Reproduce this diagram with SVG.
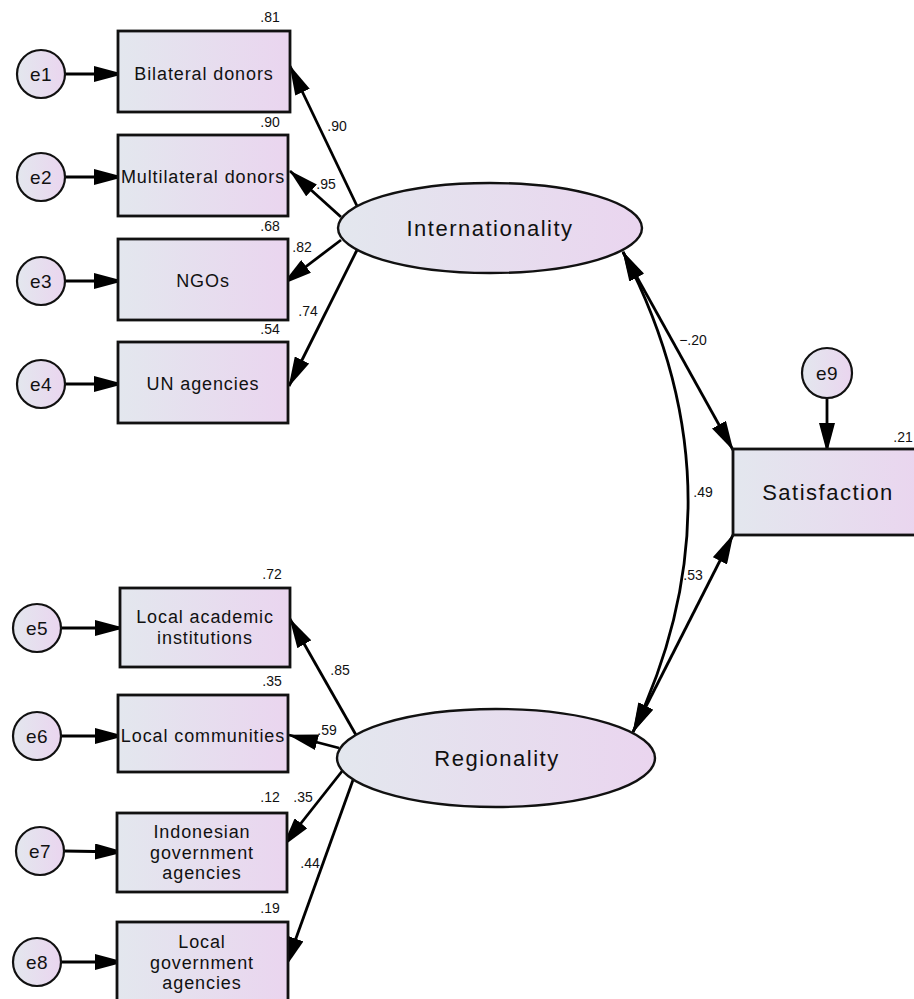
<svg xmlns="http://www.w3.org/2000/svg" width="914" height="999" viewBox="0 0 914 999">
<defs>
<linearGradient id="g" x1="0" y1="0" x2="1" y2="0">
<stop offset="0" stop-color="#e3e7ee"/>
<stop offset="1" stop-color="#ead5ef"/>
</linearGradient>
<marker id="ah" markerUnits="userSpaceOnUse" markerWidth="30" markerHeight="16" refX="29" refY="8" orient="auto-start-reverse">
<path d="M0,0 L30,8 L0,16 z" fill="#000"/>
</marker>
<style>
.box{fill:url(#g);stroke:#111;stroke-width:2.8}
.lat{fill:url(#g);stroke:#111;stroke-width:2.4}
.err{fill:url(#g);stroke:#111;stroke-width:2.2}
.t{font-family:"Liberation Sans",Arial,sans-serif;font-size:18px;letter-spacing:0.9px;fill:#111;text-anchor:middle}
.big{font-family:"Liberation Sans",Arial,sans-serif;font-size:22px;letter-spacing:1.5px;fill:#111;text-anchor:middle}
.e{font-family:"Liberation Sans",Arial,sans-serif;font-size:19px;letter-spacing:0.5px;fill:#111;text-anchor:middle}
.n{font-family:"Liberation Sans",Arial,sans-serif;font-size:14px;fill:#111;text-anchor:middle}
.c line,.c path{stroke:#000;stroke-width:2.8;fill:none}
</style>
</defs>

<g id="connectors" class="c">
<line x1="65" y1="74" x2="123" y2="74" marker-end="url(#ah)"/>
<line x1="65" y1="177" x2="123" y2="177" marker-end="url(#ah)"/>
<line x1="65" y1="281" x2="123" y2="281" marker-end="url(#ah)"/>
<line x1="65" y1="384" x2="123" y2="384" marker-end="url(#ah)"/>
<line x1="61" y1="628" x2="124" y2="628" marker-end="url(#ah)"/>
<line x1="61" y1="736" x2="124" y2="736" marker-end="url(#ah)"/>
<line x1="64" y1="851" x2="124" y2="852" marker-end="url(#ah)"/>
<line x1="61" y1="962" x2="124" y2="962" marker-end="url(#ah)"/>
<line x1="827" y1="398" x2="827" y2="452" marker-end="url(#ah)"/>
<line x1="357" y1="206" x2="290" y2="66" marker-end="url(#ah)"/>
<line x1="341" y1="217" x2="290" y2="171" marker-end="url(#ah)"/>
<line x1="341" y1="240" x2="283" y2="284" marker-end="url(#ah)"/>
<line x1="357" y1="250" x2="289" y2="386" marker-end="url(#ah)"/>
<line x1="356" y1="735" x2="290" y2="619" marker-end="url(#ah)"/>
<line x1="339" y1="748" x2="289" y2="735" marker-end="url(#ah)"/>
<line x1="343" y1="770" x2="283" y2="846" marker-end="url(#ah)"/>
<line x1="353" y1="780" x2="286" y2="966" marker-end="url(#ah)"/>
<line x1="623" y1="252" x2="733" y2="450" marker-start="url(#ah)" marker-end="url(#ah)"/>
<line x1="733" y1="535" x2="633" y2="732" marker-start="url(#ah)" marker-end="url(#ah)"/>
<path d="M623,252 Q748,491 633,732" marker-start="url(#ah)" marker-end="url(#ah)"/>
</g>

<g id="e1"><circle class="err" cx="41" cy="74" r="24"/><text class="e" x="41" y="81">e1</text></g>
<g id="e2"><circle class="err" cx="41" cy="177" r="24"/><text class="e" x="41" y="184">e2</text></g>
<g id="e3"><circle class="err" cx="41" cy="281" r="24"/><text class="e" x="41" y="288">e3</text></g>
<g id="e4"><circle class="err" cx="41" cy="384" r="24"/><text class="e" x="41" y="391">e4</text></g>
<g id="e5"><circle class="err" cx="37" cy="628" r="24"/><text class="e" x="37" y="635">e5</text></g>
<g id="e6"><circle class="err" cx="37" cy="736" r="24"/><text class="e" x="37" y="743">e6</text></g>
<g id="e7"><circle class="err" cx="40" cy="851" r="24"/><text class="e" x="40" y="858">e7</text></g>
<g id="e8"><circle class="err" cx="37" cy="962" r="24"/><text class="e" x="37" y="969">e8</text></g>
<g id="e9"><circle class="err" cx="827" cy="373" r="25"/><text class="e" x="827" y="380">e9</text></g>

<g id="bilateral"><rect class="box" x="118" y="31" width="172" height="81"/><text class="t" x="204" y="80">Bilateral donors</text><text class="n" x="270" y="22">.81</text></g>
<g id="multilateral"><rect class="box" x="118" y="135" width="170" height="81"/><text class="t" x="203" y="183">Multilateral donors</text><text class="n" x="270" y="127">.90</text></g>
<g id="ngos"><rect class="box" x="118" y="239" width="170" height="81"/><text class="t" x="203" y="287">NGOs</text><text class="n" x="270" y="231">.68</text></g>
<g id="un"><rect class="box" x="118" y="342" width="170" height="81"/><text class="t" x="203" y="390">UN agencies</text><text class="n" x="270" y="334">.54</text></g>

<g id="academic"><rect class="box" x="120" y="588" width="170" height="79"/><text class="t" x="205" y="623">Local academic</text><text class="t" x="205" y="644">institutions</text><text class="n" x="272" y="579">.72</text></g>
<g id="communities"><rect class="box" x="118" y="695" width="170" height="77"/><text class="t" x="203" y="742">Local communities</text><text class="n" x="272" y="686">.35</text></g>
<g id="indonesian"><rect class="box" x="117" y="813" width="170" height="79"/><text class="t" x="202" y="838">Indonesian</text><text class="t" x="202" y="859">government</text><text class="t" x="202" y="879">agencies</text><text class="n" x="270" y="802">.12</text></g>
<g id="localgov"><rect class="box" x="117" y="922" width="171" height="81"/><text class="t" x="202" y="948">Local</text><text class="t" x="202" y="969">government</text><text class="t" x="202" y="989">agencies</text><text class="n" x="270" y="913">.19</text></g>

<g id="internationality"><ellipse class="lat" cx="490" cy="228" rx="152" ry="45"/><text class="big" x="490" y="236">Internationality</text></g>
<g id="regionality"><ellipse class="lat" cx="496" cy="758" rx="159" ry="49"/><text class="big" x="497" y="766">Regionality</text></g>
<g id="satisfaction"><rect class="box" x="733" y="449" width="192" height="86"/><text class="big" x="828" y="500">Satisfaction</text><text class="n" x="903" y="442">.21</text></g>

<g id="labels">
<text class="n" x="337" y="131">.90</text>
<text class="n" x="326" y="189">.95</text>
<text class="n" x="302" y="252">.82</text>
<text class="n" x="308" y="316">.74</text>
<text class="n" x="340" y="675">.85</text>
<text class="n" x="327" y="735">.59</text>
<text class="n" x="303" y="802">.35</text>
<text class="n" x="310" y="868">.44</text>
<text class="n" x="693" y="345">−.20</text>
<text class="n" x="703" y="497">.49</text>
<text class="n" x="693" y="580">.53</text>
</g>
</svg>
